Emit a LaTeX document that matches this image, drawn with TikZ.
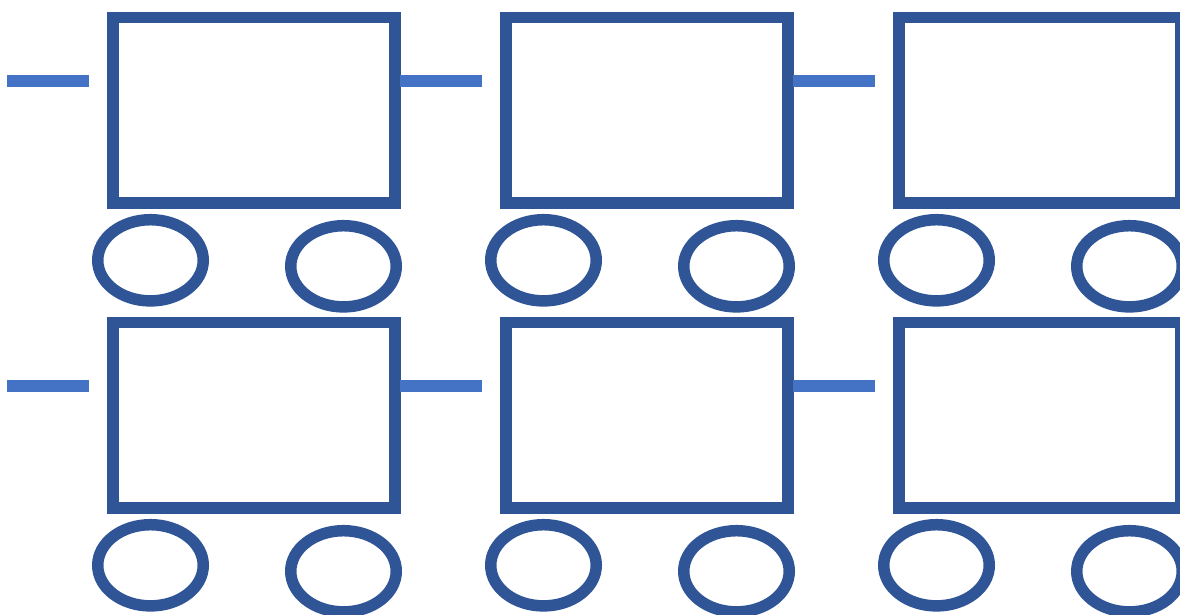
\documentclass[tikz,border=0pt]{standalone}
\usetikzlibrary{shapes.geometric}
\definecolor{cardark}{HTML}{2F5597}
\definecolor{couplerblue}{HTML}{4472C4}
\tikzset{
  carbox/.style={draw=cardark, line width=11.5pt, fill=none, inner sep=0pt, outer sep=0pt,
    minimum width=281.8pt, minimum height=185.3pt},
  wheel/.style={ellipse, draw=cardark, line width=11.5pt, inner sep=0pt, outer sep=0pt,
    minimum width=105.5pt, minimum height=81.2pt},
  coupler/.style={draw=couplerblue, line width=12pt, line cap=butt}
}
\begin{document}
\begin{tikzpicture}[x=1pt,y=-1pt]
\useasboundingbox (0,0) rectangle (1180,615);
\clip (0,0) rectangle (1180,615);
\foreach \r in {0,1}{
  \foreach \c in {0,1,2}{
    \pgfmathsetmacro{\dx}{393*\c}
    \pgfmathsetmacro{\dy}{305*\r}
    \coordinate (cpl-\r-\c-a) at (7.3+\dx,80.7+\dy);
    \coordinate (cpl-\r-\c-b) at (89+\dx,80.7+\dy);
    \draw[coupler] (cpl-\r-\c-a) -- (cpl-\r-\c-b);
    \node[carbox] (car-\r-\c) at (254.1+\dx,110.35+\dy) {};
    \node[wheel] (wa-\r-\c) at (150.5+\dx,260.3+\dy) {};
    \node[wheel] (wb-\r-\c) at (343.5+\dx,266.3+\dy) {};
  }
}
\end{tikzpicture}
\end{document}
